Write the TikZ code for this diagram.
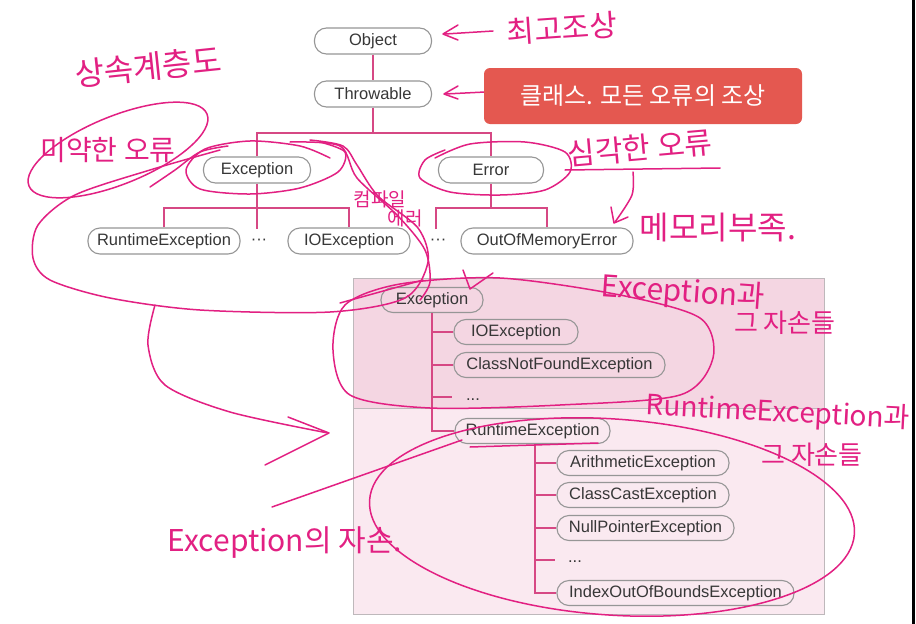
\documentclass[tikz,border=0pt]{standalone}
\usepackage{fontspec}
\setmainfont{Liberation Sans}
\newfontfamily\krfont{Noto Sans CJK KR}
\usetikzlibrary{arrows.meta}
\definecolor{linepink}{RGB}{214,72,132}
\definecolor{boxgray}{RGB}{150,150,150}
\definecolor{textgray}{RGB}{55,55,55}
\definecolor{panelup}{RGB}{244,214,226}
\definecolor{paneldown}{RGB}{250,233,240}
\definecolor{panelborder}{RGB}{190,184,187}
\definecolor{redbox}{RGB}{228,88,80}
\definecolor{ink}{RGB}{226,32,130}
\begin{document}
\begin{tikzpicture}[x=1pt,y=-1pt,
  cls/.style={draw=boxgray, line width=1.1pt, rounded corners=12pt, fill=white,
    minimum height=26pt, inner sep=0pt, text=textgray,
    font=\fontsize{16.5}{18}\selectfont},
  pcls/.style={cls, fill=none, minimum height=25pt},
  conn/.style={draw=linepink, line width=1.4pt},
  dots/.style={text=textgray, inner sep=1pt, font=\fontsize{16.5}{18}\selectfont},
  hw/.style={draw=ink, line width=1.5pt, line cap=round, line join=round},
  hwt/.style={text=ink, inner sep=0pt, font=\krfont\fontsize{#1}{#1}\selectfont},
  hwt/.default=28]
\useasboundingbox (0,0) rectangle (916,624);
\fill[white] (0,0) rectangle (916,624);
\fill[black] (912,0) rectangle (915,624);

% ---------------- top tree ----------------
\node[cls, minimum width=117pt] (obj) at (373,41) {Object};
\node[cls, minimum width=117pt] (thr) at (373,94) {Throwable};
\node[cls, minimum width=107pt] (exc) at (257,170) {Exception};
\node[cls, minimum width=105pt] (err) at (491,170) {Error};
\node[cls, minimum width=152pt] (rte) at (164,241) {RuntimeException};
\node[cls, minimum width=122pt] (ioe) at (349,241) {IOException};
\node[cls, minimum width=172pt] (oom) at (547,241) {OutOfMemoryError};
\node[dots] (d1) at (259,242) {···};
\node[dots] (d2) at (438,242) {···};
\coordinate (bar1) at (373,133);
\coordinate (bar2) at (257,208);
\coordinate (bar3) at (436,208);
\coordinate (end1) at (257,229);
\coordinate (end2) at (436,229);

\draw[conn] (obj) -- (thr);
\draw[conn] (thr) -- (bar1);
\draw[conn] (exc.north) -- (exc.north |- bar1) -- (err.north |- bar1) -- (err.north);
\draw[conn] (exc.south) -- (end1);
\draw[conn] (rte.north) -- (rte.north |- bar2) -- (ioe.north |- bar2) -- (ioe.north);
\draw[conn] (err.south) -- (err.south |- bar3);
\draw[conn] (end2) -- (bar3) -- (oom.north |- bar3) -- (oom.north);

% ---------------- panel ----------------
\fill[panelup] (353,278) rectangle (824,408);
\fill[paneldown] (353,408) rectangle (824,614);
\draw[panelborder, line width=1pt] (353,278) rectangle (824,614);
\draw[panelborder, line width=1pt] (353,408) -- (824,408);

\node[pcls, minimum width=102pt] (pexc) at (432,300) {Exception};
\node[pcls, minimum width=124pt] (pioe) at (516,332) {IOException};
\node[pcls, minimum width=211pt] (pcnf) at (559.5,365) {ClassNotFoundException};
\node[dots] (pd1) at (473,400) {...};
\node[pcls, minimum width=155pt] (prt) at (532.5,431) {RuntimeException};
\node[pcls, minimum width=172pt] (pari) at (643,463) {ArithmeticException};
\node[pcls, minimum width=172pt] (pcce) at (643,495) {ClassCastException};
\node[pcls, minimum width=177pt] (pnpe) at (645.5,528) {NullPointerException};
\node[dots] (pd2) at (575,562) {...};
\node[pcls, minimum width=237pt] (pioob) at (675.5,593) {IndexOutOfBoundsException};
\coordinate (v1) at (432,0);
\coordinate (v2) at (535,0);
\coordinate (s1) at (0,397);
\coordinate (s2) at (0,560);
\coordinate (s1e) at (452,0);
\coordinate (s2e) at (555,0);

\draw[conn] (pexc.south) -- (pexc.south |- prt.west) -- (prt.west);
\draw[conn] (pexc.south |- pioe.west) -- (pioe.west);
\draw[conn] (pexc.south |- pcnf.west) -- (pcnf.west);
\draw[conn] (v1 |- s1) -- (s1e |- s1);
\draw[conn] (v2 |- prt.south) -- (v2 |- pioob.west) -- (pioob.west);
\draw[conn] (v2 |- pari.west) -- (pari.west);
\draw[conn] (v2 |- pcce.west) -- (pcce.west);
\draw[conn] (v2 |- pnpe.west) -- (pnpe.west);
\draw[conn] (v2 |- s2) -- (s2e |- s2);

% ---------------- handwritten annotations ----------------
% top ancestor
\draw[hw] (493,31) -- (445,34);
\draw[hw] (458,25) -- (443,34) -- (458,40);
\node[hwt=30, rotate=4] (t1) at (562,28) {최고조상};
% Throwable arrow
\draw[hw] (485,92) -- (445,94);
\draw[hw] (458,86) -- (444,94) -- (458,99);
% inheritance hierarchy
\node[hwt=32, rotate=6] (t2) at (148,67) {상속계층도};
% minor error
\node[hwt=28] (t3) at (108,150) {미약한 오류};
\draw[hw, rotate around={22:(118,150)}] (118,150) ellipse [x radius=96pt, y radius=34pt];
% ellipse round Exception
\draw[hw] plot[smooth] coordinates {(330,158) (300,146) (250,141) (205,149) (186,170) (200,189) (250,194) (300,188) (338,172) (345,152) (320,142)};
% big loop
\draw[hw] plot[smooth] coordinates {(220,150) (150,170) (75,195) (38,225) (33,258) (50,280) (110,298) (200,310) (330,312) (405,298) (428,262) (418,228) (378,196) (357,165) (343,146) (310,140)};
\draw[hw] plot[smooth] coordinates {(290,142) (340,146) (357,178) (398,216) (425,250) (430,282) (420,300)};
\draw[hw] plot[smooth] coordinates {(150,187) (175,170) (200,152) (228,146)};
% compile error
\node[hwt=19] (t4) at (380,199) {컴파일};
\node[hwt=19] (t5) at (405,218) {에러};
% ellipse round Error
\draw[hw] plot[smooth] coordinates {(435,158) (470,144) (525,142) (565,152) (570,172) (545,190) (500,195) (450,192) (420,178) (425,160) (445,150)};
% serious error
\node[hwt=30, rotate=5] (t6) at (640,148) {심각한 오류};
\draw[hw] (565,170) -- (720,168);
\draw[hw] plot[smooth] coordinates {(633,172) (632,195) (615,222)};
\draw[hw] (611,207) -- (614,223) -- (628,217);
\node[hwt=32] (t7) at (718,228) {메모리부족.};
% loop round panel Exception group
\draw[hw] plot[smooth cycle] coordinates {(345,305) (400,284) (500,278) (620,295) (700,318) (713,358) (680,395) (560,405) (430,408) (350,395) (333,350)};
\draw[hw] (340,303) -- (423,280);
\draw[hw] (463,270) -- (470,289) -- (493,273);
\node[hwt=30, rotate=-4] (t8) at (683,293) {Exception과};
\node[hwt=26] (t9) at (785,323) {그 자손들};
% arrow from the big loop
\draw[hw] plot[smooth] coordinates {(155,305) (148,345) (165,385) (230,412) (328,433)};
\draw[hw] (288,417) -- (329,433) -- (265,465);
% lower group
\node[hwt=28, rotate=-3] (t10) at (778,413) {RuntimeException과};
\node[hwt=26] (t11) at (812,455) {그 자손들};
\draw[hw, rotate around={-4:(612,517)}] (612,517) ellipse [x radius=243pt, y radius=98pt];
\draw[hw] (470,447) -- (598,443);
\draw[hw] (272,507) -- (462,440);
\node[hwt=30] (t12) at (285,543) {Exception의 자손.};

% ---------------- red label ----------------
\node[fill=redbox, rounded corners=6pt, minimum width=318pt, minimum height=56pt,
  text=white, inner sep=0pt, font=\krfont\fontsize{24}{26}\selectfont] (lbl) at (643,96)
  {클래스. 모든 오류의 조상};
\end{tikzpicture}
\end{document}
